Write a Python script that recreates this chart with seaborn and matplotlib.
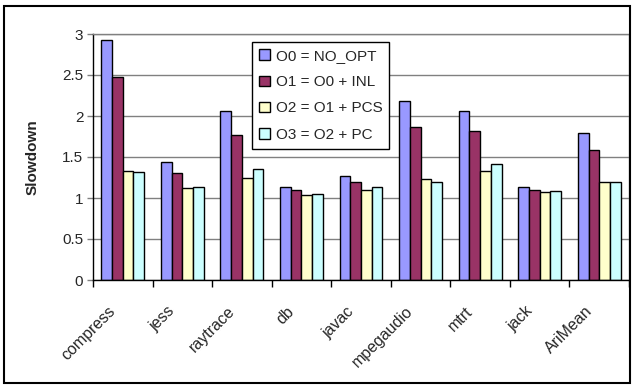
import numpy as np
import pandas as pd
import matplotlib
matplotlib.use("Agg")
import matplotlib.pyplot as plt
from matplotlib.patches import Rectangle
from matplotlib.transforms import ScaledTranslation
import seaborn as sns

benchmarks = ["compress", "jess", "raytrace", "db", "javac", "mpegaudio",
              "mtrt", "jack", "AriMean"]
series = ["O0 = NO_OPT", "O1 = O0 + INL", "O2 = O1 + PCS", "O3 = O2 + PC"]
o0 = [2.93, 1.44, 2.06, 1.14, 1.27, 2.18, 2.06, 1.14, 1.79]
o1 = [2.47, 1.31, 1.77, 1.10, 1.20, 1.87, 1.82, 1.10, 1.59]
o2 = [1.33, 1.12, 1.25, 1.04, 1.10, 1.23, 1.33, 1.07, 1.19]
o3 = [1.32, 1.14, 1.35, 1.05, 1.13, 1.19, 1.41, 1.08, 1.20]
colors = ["#9999FF", "#993366", "#FFFFCC", "#CCFFFF"]

rows = []
for name, vals in zip(series, [o0, o1, o2, o3]):
    for b, v in zip(benchmarks, vals):
        rows.append({"bench": b, "opt": name, "slowdown": v})
df = pd.DataFrame(rows)

sns.set_style("white")
plt.rcParams['font.family'] = ['Liberation Sans', 'DejaVu Sans']

fig = plt.figure(figsize=(6.32, 3.85), dpi=100)
ax = fig.add_axes([93/632, 1-280/385, 536/632, 246/385])

sns.barplot(data=df, x="bench", y="slowdown", hue="opt", order=benchmarks,
            hue_order=series, palette=colors, width=0.72, edgecolor="black",
            linewidth=1, saturation=1, ax=ax)

ax.set_ylim(0, 3)
ax.set_xlim(-0.5, len(benchmarks) - 0.5)
ax.set_yticks(np.arange(0, 3.01, 0.5))
ax.set_yticklabels(["0", "0.5", "1", "1.5", "2", "2.5", "3"])
ax.yaxis.grid(True, color="#808080", linewidth=1)
ax.set_axisbelow(True)
ax.set_xlabel("")
ax.set_ylabel("Slowdown", fontsize=11, fontweight="bold", labelpad=16)
ax.tick_params(axis="y", labelsize=11, length=4, width=1, color="#808080", pad=3, left=True)
ax.set_xticks(range(len(benchmarks)))
ax.set_xticklabels(benchmarks, rotation=45, ha="right", rotation_mode="anchor",
                   fontsize=11.5)
ax.tick_params(axis="x", which="major", length=0, pad=17)
ax.set_xticks(np.arange(-0.5, len(benchmarks), 1), minor=True)
ax.tick_params(axis="x", which="minor", length=5, width=1, color="black", bottom=True)
shift = ScaledTranslation(-0.15, 0, fig.dpi_scale_trans)
for lbl in ax.get_xticklabels():
    lbl.set_transform(lbl.get_transform() + shift)

for s in ["top", "right"]:
    ax.spines[s].set_color("#808080")
for s in ["left", "bottom"]:
    ax.spines[s].set_color("black")
for s in ax.spines.values():
    s.set_linewidth(1)

leg = ax.legend(loc="upper left", bbox_to_anchor=(0.297, 0.967), fontsize=11,
                frameon=True, fancybox=False, edgecolor="black", framealpha=1,
                handlelength=0.7, handleheight=0.7, handletextpad=0.4,
                labelspacing=0.8, borderpad=0.45, borderaxespad=0)
leg.get_frame().set_linewidth(1)

fig.patches.append(Rectangle((4/632, 2/385), 626/632, 377/385, transform=fig.transFigure,
                             fill=False, edgecolor="black", linewidth=1.5))

fig.savefig("out.png", dpi=100)
